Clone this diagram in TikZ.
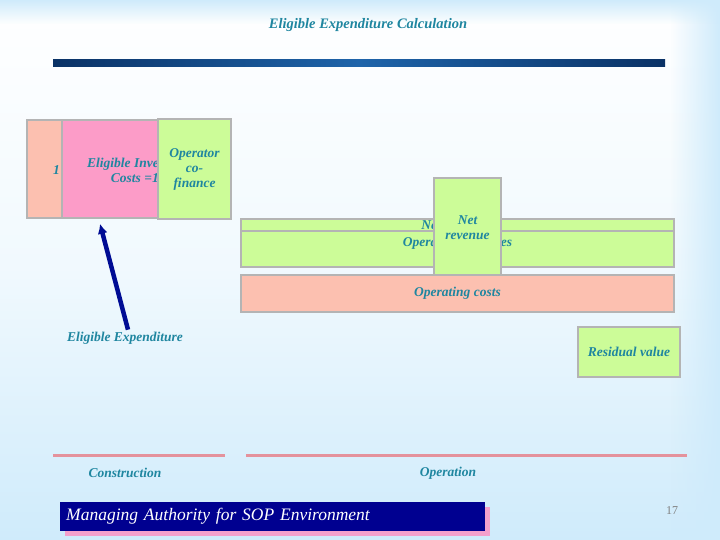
\documentclass[tikz,border=0pt]{standalone}
\usepackage{fontspec}
\setmainfont{Liberation Serif}
\usetikzlibrary{positioning,arrows.meta,shadows,calc,fadings}

\definecolor{bgblue}{HTML}{CFEBFB}
\definecolor{tealtxt}{HTML}{1F86A0}
\definecolor{salmon}{HTML}{FCC0B0}
\definecolor{pinkfill}{HTML}{FC9CC8}
\definecolor{limefill}{HTML}{CCFC98}
\definecolor{boxline}{HTML}{B4B4B4}
\definecolor{bardark}{HTML}{0A3266}
\definecolor{barlight}{HTML}{1E64AA}
\definecolor{arrownavy}{HTML}{000C94}
\definecolor{rosepink}{HTML}{E4929C}
\definecolor{footnavy}{HTML}{000090}
\definecolor{footshadow}{HTML}{F4A0CC}

\begin{document}
\begin{tikzpicture}[x=1pt,y=-1pt,font=\fontsize{13.5}{15}\selectfont\bfseries\itshape]
  \tikzset{
    box/.style={draw=boxline,line width=1.5pt,inner sep=0pt,align=center,text=tealtxt},
    cost/.style={box,fill=salmon},
    invest/.style={box,fill=pinkfill},
    income/.style={box,fill=limefill},
    label/.style={text=tealtxt,align=center,inner sep=1pt},
    phase/.style={draw=rosepink,line width=3pt},
    >={Latex[length=10pt,width=10pt]}
  }
  \useasboundingbox (0,0) rectangle (720,540);
  % background
  \shade[top color=white,bottom color=bgblue,middle color=white!70!bgblue] (0,0) rectangle (720,540);
  \fill[bgblue,path fading=west] (670,0) rectangle (720,540);
  \fill[bgblue,path fading=south] (0,0) rectangle (720,24);
  \node[label,font=\fontsize{14.5}{16}\selectfont\bfseries\itshape] (title) at (368,25) {Eligible Expenditure Calculation};
  \shade[left color=bardark,right color=bardark,middle color=barlight] (53,60) rectangle (665,67);

  % construction phase boxes
  \node[cost,minimum width=35pt,minimum height=98pt] (share) at (44.5,169) {};
  \node[label,anchor=east] at (61,170) {1};
  \node[invest,minimum width=98pt,minimum height=98pt] (invcost) at (111,169) {};
  \node[label,anchor=east,align=right] at (160,170) {Eligible Inve\\Costs =1};
  \node[income,minimum width=73pt,minimum height=100pt] (cofin) at (194.5,169) {Operator\\co-\\finance};

  % operation phase boxes
  \node[income,minimum width=433pt,minimum height=13pt] (netstrip) at (457.5,225.5) {Net revenues};
  \node[income,minimum width=433pt,minimum height=36pt] (oprev) at (457.5,249) {};
  \node[label] at (457.5,243) {Operating revenues};
  \node[income,minimum width=67pt,minimum height=100pt] (netrev) at (467.5,228) {Net\\revenue};
  \node[cost,minimum width=433pt,minimum height=37pt] (opcost) at (457.5,293.5) {Operating costs};
  \node[income,minimum width=102pt,minimum height=50pt] (resid) at (629,352) {Residual value};

  \node[label] (eligexp) at (125,338) {Eligible Expenditure};
  \draw[->,line width=4.5pt,arrownavy] ($(eligexp.north)+(3,-1)$) -- ($(invcost.south)+(-11,5)$);

  % time axis
  \draw[phase] (53,455) -- (225,455);
  \draw[phase] (246,455) -- (687,455);
  \node[label] (constr) at (125,473) {Construction};
  \node[label] (oper) at (448,473) {Operation};

  % footer
  \node[fill=footnavy,text=white,anchor=west,minimum width=425pt,minimum height=29pt,
        text width=413pt,align=left,inner xsep=6pt,font=\fontsize{17.5}{19}\selectfont\mdseries\itshape,
        drop shadow={shadow xshift=5pt,shadow yshift=-5pt,fill=footshadow,opacity=1}]
        (footer) at (60,516.5) {Managing Authority for SOP Environment};
  \node[text=gray,font=\fontsize{12}{13}\selectfont\mdseries\upshape] (pageno) at (672,511) {17};
\end{tikzpicture}
\end{document}
